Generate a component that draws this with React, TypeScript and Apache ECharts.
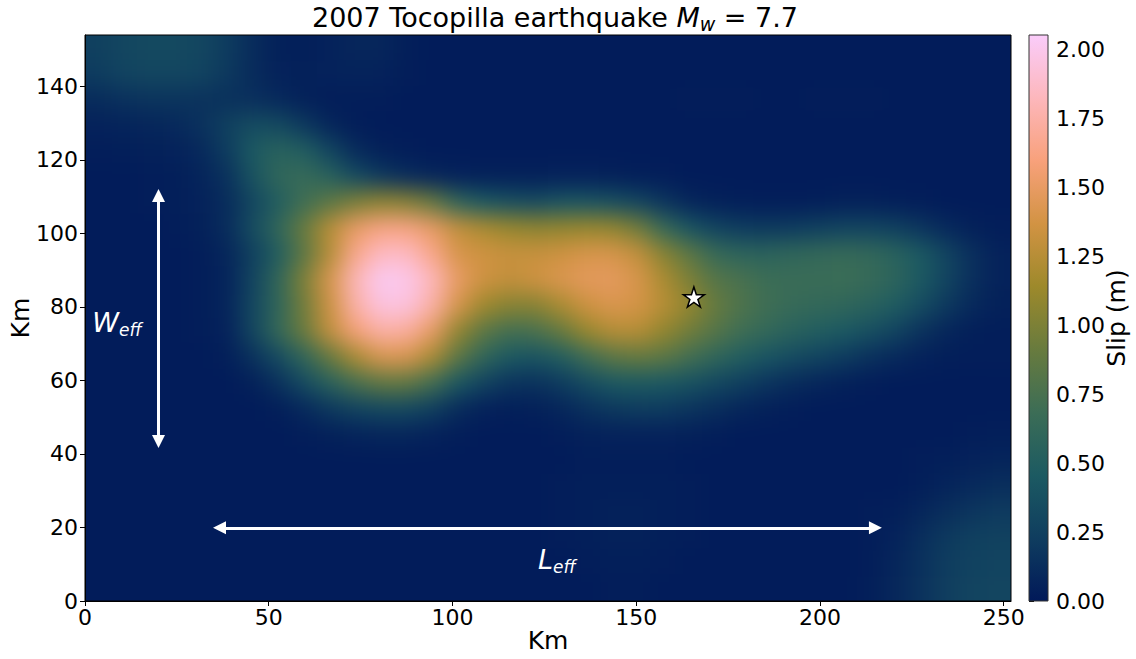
import React, { useEffect, useRef } from "react";
import * as echarts from "echarts";

const FONT = "DejaVu Sans";

// Fault plane: 36 x 22 subfaults of 7 km
const CELL_KM = 7;
const X_MAX = 252;
const Y_MAX = 154;
const SLIP_MAX = 2.054;

// Slip (m) per subfault; rows run from the top edge (y = 147-154 km) down to y = 0-7 km,
// columns from x = 0-7 km to x = 245-252 km.
const SLIP_ROWS: number[][] = [
  [0.25,0.30,0.32,0.32,0.30,0.22,0.12,0.05,0.04,0.06,0.08,0.08,0.04,0.02,0.02,0.02,0.02,0.02,0.02,0.02,0.02,0.02,0.02,0.02,0.02,0.02,0.02,0.02,0.02,0.02,0.02,0.02,0.02,0.02,0.02,0.02],
  [0.22,0.28,0.30,0.30,0.28,0.20,0.12,0.06,0.05,0.06,0.07,0.06,0.03,0.02,0.02,0.02,0.02,0.02,0.02,0.02,0.02,0.02,0.02,0.02,0.02,0.02,0.02,0.02,0.02,0.02,0.02,0.02,0.02,0.02,0.02,0.02],
  [0.12,0.15,0.17,0.17,0.16,0.15,0.14,0.10,0.05,0.03,0.03,0.03,0.02,0.02,0.02,0.02,0.02,0.02,0.02,0.02,0.02,0.02,0.02,0.03,0.03,0.03,0.02,0.02,0.03,0.03,0.03,0.02,0.02,0.02,0.02,0.02],
  [0.06,0.07,0.08,0.10,0.15,0.25,0.35,0.33,0.20,0.08,0.03,0.02,0.02,0.02,0.02,0.02,0.02,0.02,0.02,0.02,0.02,0.02,0.02,0.02,0.02,0.02,0.02,0.02,0.02,0.02,0.02,0.02,0.02,0.02,0.02,0.02],
  [0.03,0.04,0.05,0.06,0.10,0.22,0.45,0.55,0.50,0.30,0.12,0.05,0.03,0.02,0.02,0.02,0.02,0.02,0.02,0.02,0.02,0.02,0.02,0.02,0.02,0.02,0.02,0.02,0.02,0.02,0.02,0.02,0.02,0.02,0.02,0.02],
  [0.02,0.02,0.03,0.04,0.07,0.15,0.40,0.60,0.65,0.55,0.35,0.20,0.12,0.08,0.06,0.05,0.05,0.05,0.06,0.06,0.05,0.04,0.03,0.02,0.02,0.02,0.02,0.02,0.02,0.02,0.02,0.02,0.02,0.02,0.02,0.02],
  [0.02,0.02,0.03,0.04,0.06,0.12,0.30,0.50,0.70,0.85,1.00,1.08,1.05,0.90,0.60,0.45,0.38,0.35,0.42,0.42,0.38,0.30,0.18,0.08,0.05,0.04,0.03,0.03,0.04,0.05,0.05,0.04,0.03,0.02,0.02,0.02],
  [0.02,0.02,0.02,0.03,0.05,0.12,0.35,0.60,0.90,1.25,1.50,1.62,1.62,1.50,1.30,1.20,1.12,1.08,1.10,1.12,1.10,0.95,0.65,0.42,0.28,0.22,0.20,0.22,0.25,0.28,0.28,0.25,0.18,0.10,0.05,0.03],
  [0.02,0.02,0.02,0.02,0.03,0.08,0.25,0.50,0.85,1.25,1.65,1.85,1.85,1.65,1.40,1.35,1.32,1.32,1.35,1.40,1.40,1.30,1.05,0.85,0.65,0.58,0.57,0.60,0.62,0.64,0.62,0.55,0.45,0.28,0.14,0.06],
  [0.02,0.02,0.02,0.02,0.03,0.07,0.28,0.60,1.00,1.40,1.80,2.02,2.00,1.82,1.50,1.35,1.30,1.35,1.42,1.47,1.48,1.40,1.20,1.00,0.82,0.75,0.68,0.67,0.67,0.68,0.65,0.58,0.45,0.28,0.14,0.06],
  [0.02,0.02,0.02,0.02,0.03,0.07,0.30,0.60,0.95,1.35,1.75,1.95,1.95,1.75,1.40,1.15,1.05,1.05,1.20,1.35,1.42,1.38,1.25,1.10,0.90,0.78,0.70,0.65,0.62,0.60,0.55,0.48,0.35,0.20,0.10,0.05],
  [0.02,0.02,0.02,0.02,0.03,0.06,0.30,0.62,0.92,1.30,1.58,1.75,1.72,1.50,1.10,0.85,0.72,0.75,0.90,1.12,1.25,1.25,1.10,0.95,0.82,0.70,0.62,0.55,0.50,0.45,0.38,0.28,0.16,0.08,0.04,0.03],
  [0.02,0.02,0.02,0.02,0.02,0.04,0.15,0.35,0.60,0.90,1.20,1.42,1.42,1.20,0.85,0.60,0.45,0.42,0.50,0.70,0.85,0.90,0.85,0.72,0.60,0.50,0.42,0.35,0.28,0.22,0.15,0.10,0.06,0.04,0.03,0.03],
  [0.02,0.02,0.02,0.02,0.02,0.02,0.05,0.15,0.35,0.55,0.75,0.88,0.88,0.72,0.45,0.28,0.18,0.16,0.22,0.35,0.45,0.47,0.45,0.40,0.32,0.25,0.18,0.12,0.08,0.05,0.03,0.02,0.02,0.02,0.02,0.02],
  [0.02,0.02,0.02,0.02,0.02,0.02,0.02,0.04,0.10,0.20,0.28,0.33,0.33,0.25,0.12,0.06,0.04,0.05,0.08,0.15,0.20,0.23,0.22,0.18,0.13,0.08,0.05,0.03,0.02,0.02,0.02,0.02,0.02,0.02,0.02,0.02],
  [0.02,0.02,0.02,0.02,0.02,0.02,0.02,0.02,0.03,0.05,0.07,0.08,0.08,0.06,0.03,0.02,0.02,0.02,0.03,0.05,0.06,0.06,0.06,0.05,0.03,0.02,0.02,0.02,0.02,0.02,0.02,0.02,0.02,0.02,0.03,0.04],
  [0.02,0.02,0.02,0.02,0.02,0.02,0.02,0.02,0.02,0.02,0.02,0.02,0.02,0.02,0.02,0.02,0.02,0.02,0.02,0.03,0.03,0.03,0.03,0.02,0.02,0.02,0.02,0.02,0.02,0.02,0.02,0.02,0.03,0.04,0.06,0.07],
  [0.02,0.02,0.02,0.02,0.02,0.02,0.02,0.02,0.02,0.02,0.02,0.02,0.02,0.02,0.02,0.02,0.02,0.02,0.03,0.04,0.04,0.04,0.04,0.03,0.02,0.02,0.02,0.02,0.02,0.02,0.02,0.02,0.04,0.07,0.10,0.13],
  [0.02,0.02,0.02,0.02,0.02,0.02,0.02,0.02,0.02,0.02,0.02,0.02,0.02,0.02,0.02,0.02,0.02,0.02,0.03,0.04,0.05,0.05,0.04,0.03,0.02,0.02,0.02,0.02,0.02,0.02,0.03,0.04,0.08,0.13,0.18,0.21],
  [0.02,0.02,0.02,0.02,0.02,0.02,0.02,0.02,0.02,0.02,0.02,0.02,0.02,0.02,0.02,0.02,0.02,0.02,0.03,0.04,0.05,0.05,0.04,0.03,0.02,0.02,0.02,0.02,0.02,0.02,0.03,0.06,0.13,0.20,0.25,0.26],
  [0.02,0.02,0.02,0.02,0.02,0.02,0.02,0.02,0.02,0.02,0.02,0.02,0.02,0.02,0.02,0.02,0.02,0.02,0.02,0.03,0.04,0.04,0.03,0.02,0.02,0.02,0.02,0.02,0.02,0.02,0.03,0.08,0.15,0.23,0.27,0.28],
  [0.02,0.02,0.02,0.02,0.02,0.02,0.02,0.02,0.02,0.02,0.02,0.02,0.02,0.02,0.02,0.02,0.02,0.02,0.02,0.02,0.03,0.03,0.02,0.02,0.02,0.02,0.02,0.02,0.02,0.02,0.04,0.09,0.16,0.24,0.28,0.29],
];

const X_TICKS = [0, 50, 100, 150, 200, 250];
const Y_TICKS = [0, 20, 40, 60, 80, 100, 120, 140];
const SLIP_TICKS = [0, 0.25, 0.5, 0.75, 1.0, 1.25, 1.5, 1.75, 2.0];

// batlow colour map
const BATLOW = [
  "#011959", "#0F3D5F", "#1C5A62", "#3C6D56", "#687B3E",
  "#9D892B", "#D29343", "#F8A17B", "#FDB7BC", "#FACCFA",
];

// Hypocentre and effective-dimension annotations (km)
const HYPOCENTER = [165.7, 82.7];
const W_ARROW = [[20, 43.4], [20, 110.3]];
const L_ARROW = [[36.6, 19.9], [215.1, 19.9]];
const W_LABEL_AT = [8.7, 75.9];
const L_LABEL_AT = [128.4, 11.2];

const PLOT = { left: 85, top: 35, width: 926, height: 566 };
const CBAR = { left: 1029, top: 35, width: 19, height: 566 };
const BLUR_PX = 11;
const PAD = 48;

const STAR_PATH = (() => {
  const pts: string[] = [];
  for (let k = 0; k < 10; k++) {
    const a = -Math.PI / 2 + (k * Math.PI) / 5;
    const r = k % 2 === 0 ? 10 : 3.82;
    pts.push(`${(r * Math.cos(a)).toFixed(3)} ${(r * Math.sin(a)).toFixed(3)}`);
  }
  return "path://M" + pts.join(" L") + " Z";
})();

function slipCells() {
  const n = SLIP_ROWS.length;
  const cells: number[][] = [];
  SLIP_ROWS.forEach((row, r) => {
    row.forEach((v, c) => {
      cells.push([c * CELL_KM, (n - 1 - r) * CELL_KM, v]);
    });
  });
  return cells;
}

// italic symbol with italic subscript, e.g. W_eff
const SUB_RICH = {
  b: { fontSize: 27, fontFamily: FONT, fontStyle: "italic", fill: "#fff", lineHeight: 32 },
  s: { fontSize: 17, fontFamily: FONT, fontStyle: "italic", fill: "#fff", lineHeight: 15, verticalAlign: "bottom" },
};

export default function App() {
  const heatRef = useRef<HTMLDivElement>(null);
  const mainRef = useRef<HTMLDivElement>(null);

  useEffect(() => {
    const heat = echarts.init(heatRef.current!, null, { renderer: "svg" });
    const main = echarts.init(mainRef.current!, null, { renderer: "svg" });

    heat.setOption({
      animation: false,
      backgroundColor: "transparent",
      grid: {
        left: PAD,
        top: PAD,
        width: PLOT.width,
        height: PLOT.height,
        containLabel: false,
        outerBoundsMode: "none",
      },
      xAxis: { type: "value", min: 0, max: X_MAX, show: false },
      yAxis: { type: "value", min: 0, max: Y_MAX, show: false },
      visualMap: {
        show: false,
        type: "continuous",
        min: 0,
        max: SLIP_MAX,
        dimension: 2,
        seriesIndex: 0,
        inRange: { color: BATLOW },
      },
      series: [
        {
          type: "custom",
          coordinateSystem: "cartesian2d",
          silent: true,
          data: slipCells(),
          renderItem: (params: any, api: any) => {
            const x0 = api.value(0);
            const y0 = api.value(1);
            const tl = api.coord([x0, y0 + CELL_KM]);
            const br = api.coord([x0 + CELL_KM, y0]);
            let left = tl[0];
            let top = tl[1];
            let right = br[0];
            let bottom = br[1];
            // edge cells are stretched outward so the softening has no dark rim
            if (x0 <= 0) left -= PAD;
            if (x0 + CELL_KM >= X_MAX) right += PAD;
            if (y0 <= 0) bottom += PAD;
            if (y0 + CELL_KM >= Y_MAX) top -= PAD;
            return {
              type: "rect",
              shape: { x: left, y: top, width: right - left + 0.6, height: bottom - top + 0.6 },
              style: { fill: api.visual("color") },
            };
          },
        },
      ],
    });

    const tickLabel = { fontSize: 22, color: "#000", fontFamily: FONT };
    const axisName = { fontSize: 25, color: "#000", fontFamily: FONT };

    main.setOption({
      animation: false,
      backgroundColor: "transparent",
      textStyle: { fontFamily: FONT },
      graphic: [
        {
          id: "title",
          type: "text",
          x: 555,
          y: 17,
          silent: true,
          style: {
            text: "{a|2007 Tocopilla earthquake }{m|M}{w|w}{a| = 7.7}",
            align: "center",
            verticalAlign: "middle",
            fill: "#000",
            rich: {
              a: { fontSize: 27, fontFamily: FONT, lineHeight: 32, fill: "#000" },
              m: { fontSize: 27, fontFamily: FONT, fontStyle: "italic", lineHeight: 32, fill: "#000" },
              w: { fontSize: 19, fontFamily: FONT, fontStyle: "italic", lineHeight: 18, verticalAlign: "bottom", fill: "#000" },
            },
          },
        },
      ],
      grid: [
        {
          ...PLOT,
          show: true,
          borderColor: "#000",
          borderWidth: 1,
          backgroundColor: "transparent",
          containLabel: false,
          outerBoundsMode: "none",
        },
        { ...CBAR, show: false, containLabel: false, outerBoundsMode: "none" },
      ],
      xAxis: [
        {
          gridIndex: 0,
          type: "value",
          min: 0,
          max: X_MAX,
          axisLine: { show: true, onZero: false, lineStyle: { color: "#000", width: 1 } },
          axisTick: { show: true, length: 5, customValues: X_TICKS, lineStyle: { color: "#000", width: 1 } },
          axisLabel: { ...tickLabel, customValues: X_TICKS, margin: 5 },
          splitLine: { show: false },
          name: "Km",
          nameLocation: "middle",
          nameGap: 27,
          nameMoveOverlap: false,
          nameTextStyle: axisName,
        },
        { gridIndex: 1, type: "value", min: 0, max: 1, show: false },
      ],
      yAxis: [
        {
          gridIndex: 0,
          type: "value",
          min: 0,
          max: Y_MAX,
          axisLine: { show: true, onZero: false, lineStyle: { color: "#000", width: 1 } },
          axisTick: { show: true, length: 5, customValues: Y_TICKS, lineStyle: { color: "#000", width: 1 } },
          axisLabel: { ...tickLabel, customValues: Y_TICKS, margin: 7 },
          splitLine: { show: false },
          name: "Km",
          nameLocation: "middle",
          nameGap: 52,
          nameMoveOverlap: false,
          nameTextStyle: axisName,
        },
        {
          gridIndex: 1,
          type: "value",
          position: "right",
          min: 0,
          max: SLIP_MAX,
          axisLine: { show: false },
          axisTick: { show: true, length: 5, customValues: SLIP_TICKS, lineStyle: { color: "#000", width: 1 } },
          axisLabel: {
            ...tickLabel,
            customValues: SLIP_TICKS,
            margin: 8,
            formatter: (v: number) => v.toFixed(2),
          },
          splitLine: { show: false },
          name: "Slip (m)",
          nameLocation: "middle",
          nameGap: 56,
          nameMoveOverlap: false,
          nameTextStyle: axisName,
        },
      ],
      series: [
        {
          // colour bar
          type: "custom",
          coordinateSystem: "cartesian2d",
          xAxisIndex: 1,
          yAxisIndex: 1,
          silent: true,
          data: [[0, 0]],
          renderItem: (params: any) => {
            const cs = params.coordSys;
            return {
              type: "rect",
              shape: { x: cs.x, y: cs.y, width: cs.width, height: cs.height },
              style: {
                fill: new echarts.graphic.LinearGradient(
                  0, 1, 0, 0,
                  BATLOW.map((c, i) => ({ offset: i / (BATLOW.length - 1), color: c }))
                ),
                stroke: "#333",
                lineWidth: 1,
              },
            };
          },
        },
        {
          // W_eff and L_eff double arrows
          type: "lines",
          coordinateSystem: "cartesian2d",
          xAxisIndex: 0,
          yAxisIndex: 0,
          silent: true,
          symbol: ["triangle", "triangle"],
          symbolSize: 13,
          lineStyle: { color: "#fff", width: 3, opacity: 1 },
          data: [{ coords: W_ARROW }, { coords: L_ARROW }],
          z: 3,
        },
        {
          // hypocentre
          type: "scatter",
          xAxisIndex: 0,
          yAxisIndex: 0,
          silent: true,
          symbol: STAR_PATH,
          symbolSize: [21, 20],
          itemStyle: { color: "#fff", borderColor: "#000", borderWidth: 1.5, opacity: 1 },
          data: [HYPOCENTER],
          z: 5,
        },
      ],
    });

    // annotation texts placed through the main axes
    const wAt = main.convertToPixel({ xAxisIndex: 0, yAxisIndex: 0 }, W_LABEL_AT) as number[];
    const lAt = main.convertToPixel({ xAxisIndex: 0, yAxisIndex: 0 }, L_LABEL_AT) as number[];
    main.setOption({
      graphic: [
        {
          id: "w-eff",
          type: "text",
          x: wAt[0],
          y: wAt[1],
          silent: true,
          z: 10,
          style: { text: "{b|W}{s|eff}", align: "center", verticalAlign: "middle", fill: "#fff", rich: SUB_RICH },
        },
        {
          id: "l-eff",
          type: "text",
          x: lAt[0],
          y: lAt[1],
          silent: true,
          z: 10,
          style: { text: "{b|L}{s|eff}", align: "center", verticalAlign: "middle", fill: "#fff", rich: SUB_RICH },
        },
      ],
    });

    return () => {
      heat.dispose();
      main.dispose();
    };
  }, []);

  return (
    <div style={{ position: "absolute", left: 0, top: 0, width: 1136, height: 659, background: "#fff", overflow: "hidden" }}>
      <div
        style={{
          position: "absolute",
          left: PLOT.left,
          top: PLOT.top,
          width: PLOT.width,
          height: PLOT.height,
          overflow: "hidden",
          background: "#021b59",
        }}
      >
        <div
          ref={heatRef}
          style={{
            position: "absolute",
            left: -PAD,
            top: -PAD,
            width: PLOT.width + 2 * PAD,
            height: PLOT.height + 2 * PAD,
            filter: `blur(${BLUR_PX}px)`,
          }}
        />
      </div>
      <div ref={mainRef} style={{ position: "absolute", left: 0, top: 0, width: 1136, height: 659 }} />
    </div>
  );
}
